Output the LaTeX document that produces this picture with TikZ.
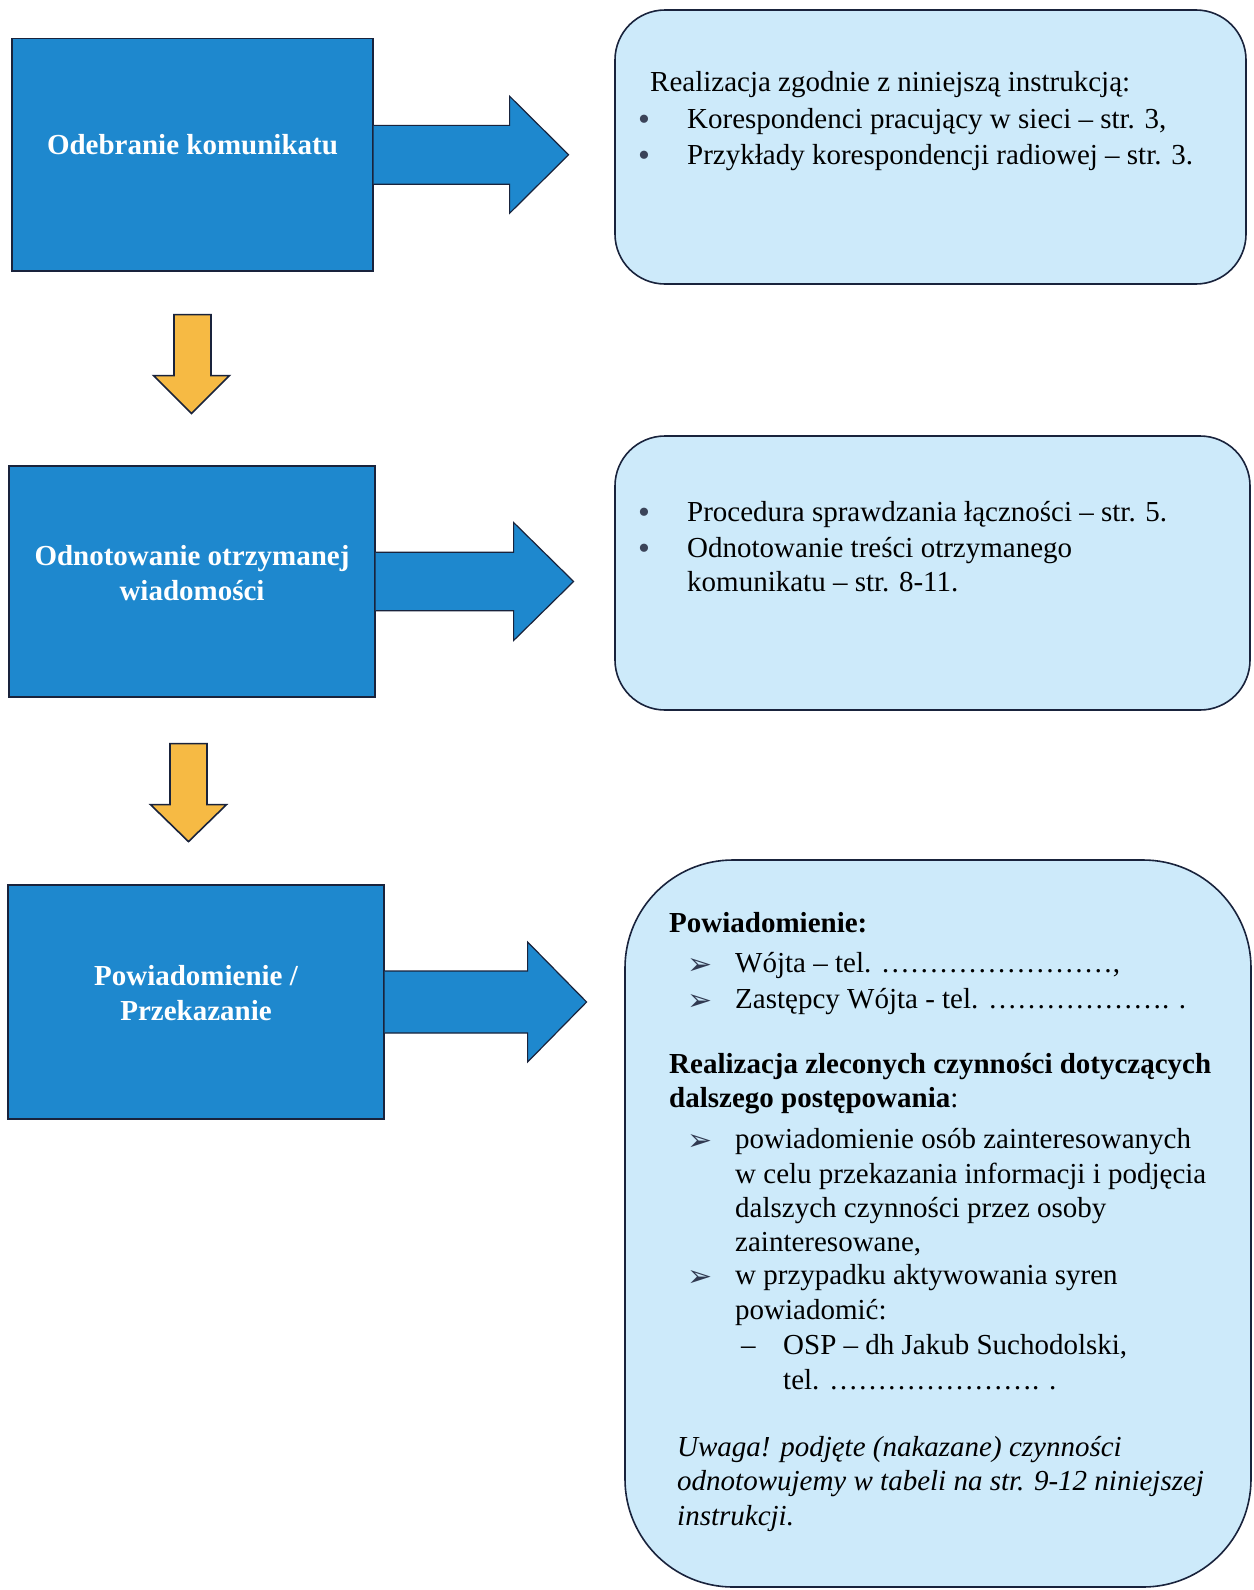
\documentclass[tikz,border=0pt]{standalone}
\usepackage{fontspec}
\setmainfont{Liberation Serif}
\newfontfamily\djv{DejaVu Sans}
\usetikzlibrary{calc}
\definecolor{boxblue}{RGB}{30,136,206}
\definecolor{infofill}{RGB}{205,234,250}
\definecolor{navy}{RGB}{25,35,60}
\definecolor{amber}{RGB}{246,186,68}
\begin{document}
\begin{tikzpicture}[x=1pt,y=-1pt,
  stepbox/.style={draw=navy, line width=1.2pt, fill=boxblue, inner sep=0pt},
  steplabel/.style={text=white, font=\fontsize{29}{34.5}\selectfont\bfseries, align=center, inner sep=0pt},
  infobox/.style={draw=navy, line width=1.6pt, fill=infofill, inner sep=0pt},
  bigarrow/.style={fill=boxblue, draw=navy, line width=1.2pt, line join=miter},
  downarrow/.style={fill=amber, draw=navy, line width=1.6pt, line join=miter},
  txt/.style={anchor=base west, inner sep=0pt, font=\fontsize{29}{34.5}\selectfont},
  btxt/.style={txt, font=\fontsize{29}{34.5}\selectfont\bfseries},
  itxt/.style={txt, font=\fontsize{29}{34.5}\selectfont\itshape},
  dotbullet/.style={anchor=base west, inner sep=0pt, text=navy!85, font=\fontsize{34}{34}\selectfont},
  arrbullet/.style={anchor=base west, inner sep=0pt, text=navy!90, font=\djv\fontsize{30}{30}\selectfont},
]
\useasboundingbox (0,0) rectangle (1253,1590);
\fill[white] (0,0) rectangle (1253,1590);

% ---------- left step boxes ----------
\node[stepbox, minimum width=361pt, minimum height=232.5pt] (b1) at (192.5,154.75) {};
\node[stepbox, minimum width=366pt, minimum height=231pt] (b2) at (192,581.5) {};
\node[stepbox, minimum width=376pt, minimum height=234pt] (b3) at (196,1002) {};

% ---------- info boxes ----------
\node[infobox, rounded corners=50pt, minimum width=631pt, minimum height=274pt] (i1) at (930.5,147) {};
\node[infobox, rounded corners=50pt, minimum width=635pt, minimum height=274pt] (i2) at (932.5,573) {};
\node[infobox, rounded corners=108pt, minimum width=626pt, minimum height=727pt] (i3) at (938,1223.5) {};

% ---------- block arrows to the right ----------
\filldraw[bigarrow, shift={(b1.east)}] (0,-29.4) -- (136,-29.4) -- (136,-58.5) -- (195,0) -- (136,58.5) -- (136,29.4) -- (0,29.4);
\filldraw[bigarrow, shift={(b2.east)}] (0,-29.3) -- (138,-29.3) -- (138,-59) -- (198,0) -- (138,59) -- (138,29.3) -- (0,29.3);
\filldraw[bigarrow, shift={(b3.east)}] (0,-31) -- (143,-31) -- (143,-60) -- (202,0) -- (143,60) -- (143,31) -- (0,31);

% ---------- yellow down arrows ----------
\filldraw[downarrow, shift={(b1.south)}] (-18.5,43) -- (18.5,43) -- (18.5,104) -- (37,104) -- (-1,142) -- (-39,104) -- (-18.5,104) -- cycle;
\filldraw[downarrow, shift={($(b2.south)+(-3.5,0)$)}] (-18.5,46) -- (18.5,46) -- (18.5,107) -- (38,107) -- (0,144) -- (-38,107) -- (-18.5,107) -- cycle;

% ---------- step labels ----------
\node[steplabel] (b1t) at ($(b1.center)+(0,-10.5)$) {Odebranie komunikatu};
\node[steplabel] (b2t) at ($(b2.center)+(0,-8.5)$) {Odnotowanie otrzymanej\\wiadomości};
\node[steplabel] (b3t) at ($(b3.center)+(0,-9)$) {Powiadomienie /\\Przekazanie};

% ---------- info box 1 ----------
\node[txt] (i1a) at (650,91) {Realizacja zgodnie z niniejszą instrukcją:};
\node[dotbullet] (i1b1) at (638,130) {•};
\node[txt] (i1b) at (687,128) {Korespondenci pracujący w sieci – str. 3,};
\node[dotbullet] (i1c1) at (638,166) {•};
\node[txt] (i1c) at (687,164) {Przykłady korespondencji radiowej – str. 3.};

% ---------- info box 2 ----------
\node[dotbullet] (i2a1) at (638,523) {•};
\node[txt] (i2a) at (687,521) {Procedura sprawdzania łączności – str. 5.};
\node[dotbullet] (i2b1) at (638,559.5) {•};
\node[txt] (i2b) at (687,557.5) {Odnotowanie treści otrzymanego};
\node[txt] (i2c) at (687,591) {komunikatu – str. 8-11.};

% ---------- info box 3 ----------
\node[btxt] (p1) at (669,932) {Powiadomienie:};
\node[arrbullet] (p2b) at (687,974) {➢};
\node[txt] (p2) at (735,972) {Wójta – tel. ……………………,};
\node[arrbullet] (p3b) at (687,1010) {➢};
\node[txt] (p3) at (735,1008) {Zastępcy Wójta - tel. ………………. .};
\node[btxt] (r1) at (669,1073.6) {Realizacja zleconych czynności dotyczących};
\node[txt] (r2) at (669,1107) {\textbf{dalszego postępowania}:};
\node[arrbullet] (r3b) at (687,1150.6) {➢};
\node[txt] (r3) at (735,1148.6) {powiadomienie osób zainteresowanych};
\node[txt] (r4) at (735,1183) {w celu przekazania informacji i podjęcia};
\node[txt] (r5) at (735,1217.5) {dalszych czynności przez osoby};
\node[txt] (r6) at (735,1251) {zainteresowane,};
\node[arrbullet] (r7b) at (687,1286.5) {➢};
\node[txt] (r7) at (735,1284.5) {w przypadku aktywowania syren};
\node[txt] (r8) at (735,1319) {powiadomić:};
\node[txt] (r9b) at (741,1354) {–};
\node[txt] (r9) at (783,1354) {OSP – dh Jakub Suchodolski,};
\node[txt] (r10) at (783,1389) {tel. …………………. .};
\node[itxt] (u1) at (677,1456) {Uwaga! podjęte (nakazane) czynności};
\node[itxt] (u2) at (677,1490) {odnotowujemy w tabeli na str. 9-12 niniejszej};
\node[itxt] (u3) at (677,1525) {instrukcji.};
\end{tikzpicture}
\end{document}
